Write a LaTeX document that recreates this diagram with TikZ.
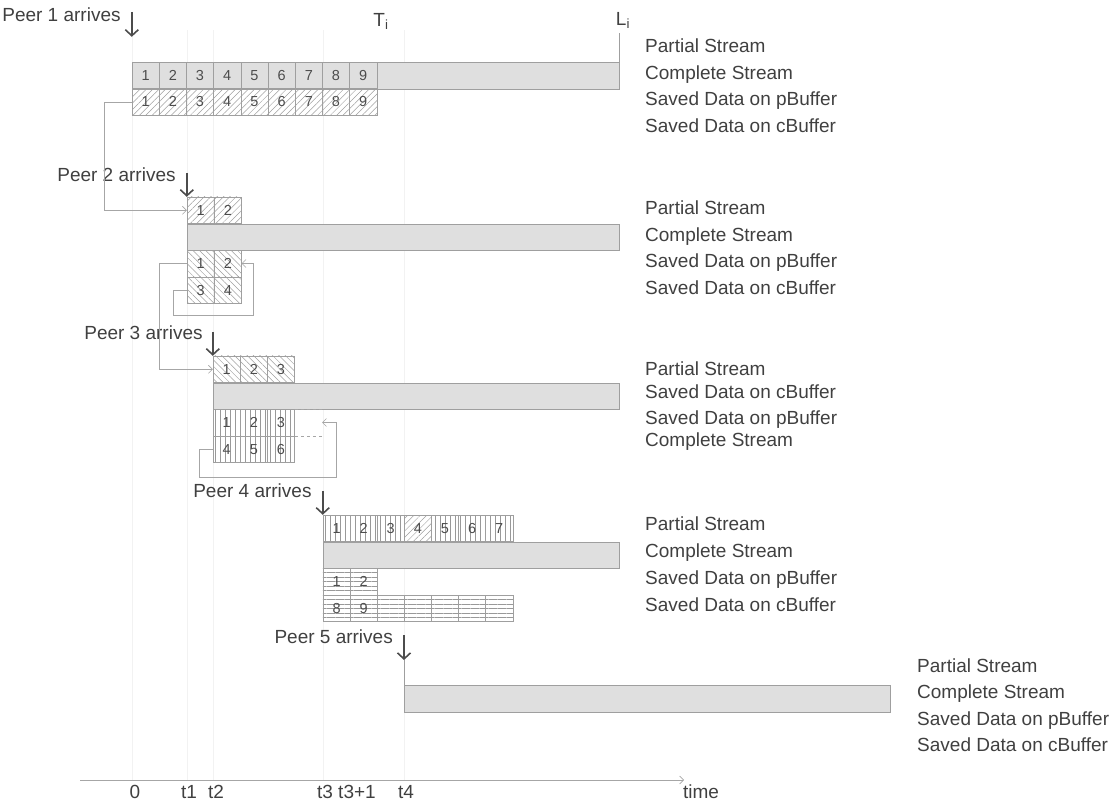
\documentclass[tikz,border=0pt]{standalone}
\usepackage{fontspec}
\setmainfont{Liberation Sans}
\usetikzlibrary{arrows.meta,patterns.meta,positioning,calc}

\begin{document}
\begin{tikzpicture}[
    x=1pt, y=-1pt,
    cell/.style={rectangle, draw=gray!75, minimum width=27.2pt, minimum height=26.6pt, inner sep=0pt, font=\fontsize{14.5}{14.5}\selectfont, text=black!70},
    fwd/.style={pattern={Lines[angle=45,distance=4.5pt,line width=0.5pt]}, pattern color=gray!75},
    bwd/.style={pattern={Lines[angle=-45,distance=4.5pt,line width=0.5pt]}, pattern color=gray!75},
    vert/.style={pattern={Lines[angle=90,distance=5pt,line width=0.5pt]}, pattern color=gray!80},
    horiz/.style={pattern={Lines[angle=0,distance=4.5pt,line width=0.5pt]}, pattern color=gray!80},
    stream/.style={rectangle, draw=gray!75, fill=gray!25, minimum height=26.6pt, inner sep=0pt, anchor=north west},
    lbl/.style={anchor=west, inner sep=0pt, text height=13.5pt, text depth=4pt, font=\fontsize{19}{21}\selectfont, text=black!75},
    peer/.style={lbl, anchor=east},
    tick/.style={lbl, anchor=center, text depth=1pt},
    arrival/.style={-{Straight Barb[length=6pt,width=13pt]}, line width=1.6pt, draw=black!70},
    feed/.style={-{Straight Barb[length=4pt,width=8pt]}, draw=gray!70, line width=0.6pt},
    timeline/.style={draw=gray!10, line width=0.6pt}
]
\useasboundingbox (0,0) rectangle (1117,802);

% Time marks
\foreach \x in {132,187,213,323,404}
    \draw[timeline] (\x,30) -- (\x,780);

% Peer 1
\node[stream, minimum width=487pt] (s1bar) at (132,62) {};
\foreach \i in {1,...,9}
    \node[cell] (s1c\i) at ({132+27.2*(\i-0.5)},75.3) {\i};
\foreach \i in {1,...,9}
    \node[cell, fwd] (s1p\i) at ({132+27.2*(\i-0.5)},101.9) {\i};
\coordinate (go1) at ([yshift=50pt]s1c1.north west);
\draw[arrival] (go1) -- ([yshift=25pt]s1c1.north west);
\node[peer, left=11pt of go1, yshift=-5pt] (peer1) {Peer 1 arrives};
\draw[gray!75] (s1bar.north east) -- ++(0,-29);
\node[tick] (Ti) at (381,20) {T\textsubscript{i}};
\node[tick] (Li) at (623,19) {L\textsubscript{i}};
\node[lbl] (l1a) at (645,48) {Partial Stream};
\node[lbl] (l1b) at (645,75) {Complete Stream};
\node[lbl] (l1c) at (645,101) {Saved Data on pBuffer};
\node[lbl] (l1d) at (645,128) {Saved Data on cBuffer};

% Peer 2
\foreach \i in {1,2}
    \node[cell, fwd] (s2a\i) at ({187+27.2*(\i-0.5)},210.3) {\i};
\node[stream, minimum width=432pt] (s2bar) at (187,223.6) {};
\foreach \i in {1,2}
    \node[cell, bwd] (s2p\i) at ({187+27.2*(\i-0.5)},263.5) {\i};
\foreach \t [count=\i] in {3,4}
    \node[cell, bwd] (s2c\i) at ({187+27.2*(\i-0.5)},290.1) {\t};
\coordinate (go2) at ([yshift=24pt]s2a1.north west);
\draw[arrival] (go2) -- (s2a1.north west);
\node[peer, left=11pt of go2, yshift=-4pt] (peer2) {Peer 2 arrives};
\node[lbl] (l2a) at (645,210) {Partial Stream};
\node[lbl] (l2b) at (645,237) {Complete Stream};
\node[lbl] (l2c) at (645,263) {Saved Data on pBuffer};
\node[lbl] (l2d) at (645,290) {Saved Data on cBuffer};

% Peer 3
\foreach \i in {1,2,3}
    \node[cell, bwd] (s3a\i) at ({213+27.2*(\i-0.5)},369.3) {\i};
\node[stream, minimum width=406pt] (s3bar) at (213,382.6) {};
\foreach \i in {1,2,3}
    \node[cell, vert] (s3p\i) at ({213+27.2*(\i-0.5)},422.5) {\i};
\foreach \t [count=\i] in {4,5,6}
    \node[cell, vert] (s3c\i) at ({213+27.2*(\i-0.5)},449.1) {\t};
\coordinate (s3gap) at ([xshift=27.2pt]s3p3.east);
\draw[gray!70, dashed] (s3p3.north east) -- ++(27.2,0);
\draw[gray!70, dashed] (s3p3.south east) -- ++(27.2,0);
\coordinate (go3) at ([yshift=24pt]s3a1.north west);
\draw[arrival] (go3) -- (s3a1.north west);
\node[peer, left=10pt of go3, yshift=-3pt] (peer3) {Peer 3 arrives};
\node[lbl] (l3a) at (645,371) {Partial Stream};
\node[lbl] (l3b) at (645,394) {Saved Data on cBuffer};
\node[lbl] (l3c) at (645,420) {Saved Data on pBuffer};
\node[lbl] (l3d) at (645,442) {Complete Stream};

% Peer 4
\foreach \i/\hatch in {1/vert,2/vert,3/vert,4/fwd,5/vert,6/vert,7/vert}
    \node[cell, \hatch] (s4a\i) at ({323+27.1*(\i-0.5)},528.3) {\i};
\node[stream, minimum width=296pt] (s4bar) at (323,541.6) {};
\foreach \i in {1,2}
    \node[cell, horiz] (s4p\i) at ({323+27.1*(\i-0.5)},581.5) {\i};
\foreach \t [count=\i] in {8,9,{},{},{},{},{}}
    \node[cell, horiz] (s4c\i) at ({323+27.1*(\i-0.5)},608.1) {\t};
\coordinate (go4) at ([yshift=24pt]s4a1.north west);
\draw[arrival] (go4) -- (s4a1.north west);
\node[peer, left=11pt of go4, yshift=-2pt] (peer4) {Peer 4 arrives};
\node[lbl] (l4a) at (645,526) {Partial Stream};
\node[lbl] (l4b) at (645,553) {Complete Stream};
\node[lbl] (l4c) at (645,580) {Saved Data on pBuffer};
\node[lbl] (l4d) at (645,607) {Saved Data on cBuffer};

% Peer 5
\node[stream, minimum width=486pt] (s5bar) at (404,685) {};
\coordinate (go5) at ([yshift=50pt]s5bar.north west);
\draw[arrival] (go5) -- ([yshift=25pt]s5bar.north west);
\draw[gray!75] ([yshift=25pt]s5bar.north west) -- (s5bar.south west);
\node[peer, left=11pt of go5, yshift=-4pt] (peer5) {Peer 5 arrives};
\node[lbl] (l5a) at (917,668) {Partial Stream};
\node[lbl] (l5b) at (917,694) {Complete Stream};
\node[lbl] (l5c) at (917,721) {Saved Data on pBuffer};
\node[lbl] (l5d) at (917,747) {Saved Data on cBuffer};

% Buffer hand-over
\draw[feed] (s1p1.west) -- ++(-27,0) |- (s2a1.west);
\draw[feed] (s2p1.west) -- ++(-27,0) |- (s3a1.west);
\draw[feed] (s2c1.west) -- ++(-14,0) -- ++(0,25) -| ([xshift=12pt]s2p2.east) -- (s2p2.east);
\draw[feed] (s3c1.west) -- ++(-14,0) -- ++(0,28) -| ([xshift=14pt]s3gap) -- (s3gap);

% Time axis
\coordinate (origin) at (80,780);
\coordinate (tend) at (684,780);
\draw[feed] (origin) -- (tend);
\node[tick] (m0) at (135,792) {0};
\node[tick] (m1) at (189,792) {t1};
\node[tick] (m2) at (216,792) {t2};
\node[tick] (m3) at (325,792) {t3};
\node[tick] (m31) at (357,792) {t3+1};
\node[tick] (m4) at (406,792) {t4};
\node[tick] (mt) at (701,792) {time};

\end{tikzpicture}
\end{document}
